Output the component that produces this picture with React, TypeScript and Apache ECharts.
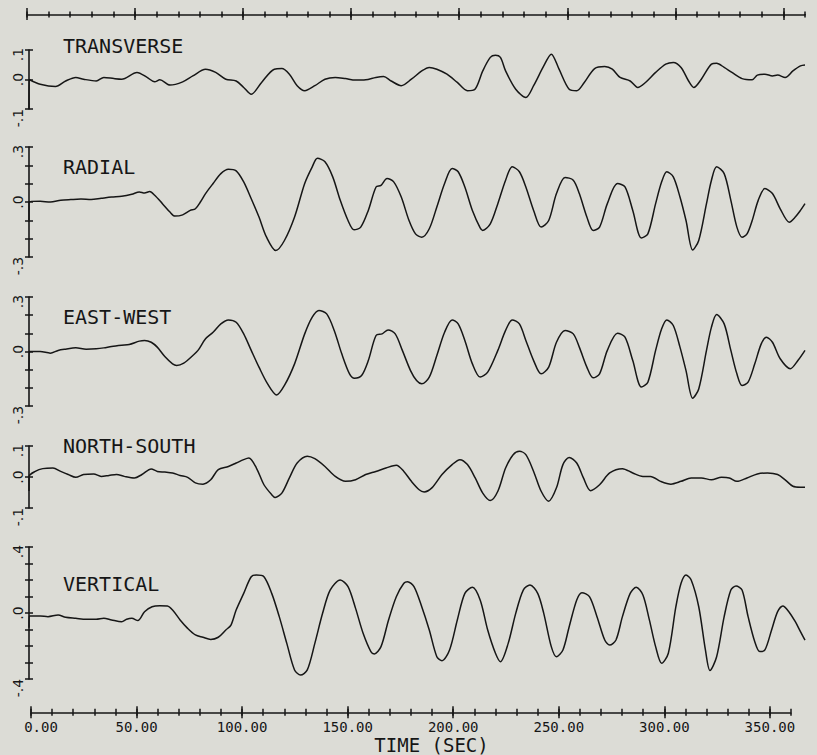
import React, { useEffect, useRef } from 'react';
import * as echarts from 'echarts';

// ---------- data ----------
const panelNames = ['TRANSVERSE', 'RADIAL', 'EAST-WEST', 'NORTH-SOUTH', 'VERTICAL'];
const panelRanges = [0.1, 0.3, 0.3, 0.1, 0.4];
const yTickLabels = [
  ['-.1', '.0', '.1'],
  ['-.3', '.0', '.3'],
  ['-.3', '.0', '.3'],
  ['-.1', '.0', '.1'],
  ['-.4', '.0', '.4'],
];
const xMajorTicks = [0, 50, 100, 150, 200, 250, 300, 350];
const xTickLabels = ['0.00', '50.00', '100.00', '150.00', '200.00', '250.00', '300.00', '350.00'];
const xAxisTitle = 'TIME (SEC)';

const transverse = [
  [0, -0.1], [0.05, 0], [5.2, -0.016], [12.3, -0.024], [17, -0.005], [21.7, 0.007], [25.3, 0.001], [31.2, -0.005],
  [34.7, 0.007], [39.4, 0.003], [43, 0.001], [50.1, 0.024], [54.8, 0.007], [58.3, -0.008], [60.7, -0.001],
  [65.4, -0.019], [71.3, -0.008], [76, 0.012], [81.9, 0.035], [86.6, 0.024], [91.3, 0.001], [96.1, -0.005],
  [99.6, -0.027], [103.1, -0.05], [107.9, -0.01], [113.8, 0.035], [117.3, 0.037], [120.8, 0.018], [124.4, -0.021],
  [127.9, -0.038], [132.6, -0.021], [137.3, 0.001], [142.1, 0.007], [146.8, 0.003], [151.5, -0.002], [156.2, -0.001],
  [160.9, 0.007], [164.5, 0.01], [168, -0.005], [172.7, -0.021], [177.4, 0.001], [182.2, 0.029], [185.7, 0.041],
  [189.2, 0.035], [193.9, 0.018], [198.7, -0.01], [203.4, -0.038], [206.9, -0.033], [210.5, 0.029], [214, 0.075],
  [216.4, 0.082], [218.7, 0.075], [221.1, 0.029], [225.8, -0.033], [230.5, -0.061], [234.1, -0.021], [238.8, 0.046],
  [242.3, 0.086], [245.9, 0.035], [250.6, -0.033], [254.1, -0.038], [257.6, -0.01], [262.4, 0.037], [267.1, 0.044],
  [270.6, 0.035], [274.2, 0.007], [278.9, -0.005], [282.4, -0.027], [286, -0.01], [290.7, 0.024], [295.4, 0.052],
  [298.9, 0.058], [302.5, 0.041], [306, -0.005], [308.4, -0.027], [311.9, 0.001], [316.6, 0.052], [319, 0.055],
  [322.5, 0.041], [326.1, 0.024], [330.8, 0.003], [335.5, -0.001], [337.9, 0.015], [341.4, 0.018], [344.9, 0.012],
  [347.3, 0.015], [350.8, 0.007], [354.4, 0.029], [357.9, 0.046], [360, 0.049],
];

const radial = [
  [0, -0.1], [0.05, 0], [5.2, 0.004], [9.9, 0], [14.7, 0.009], [19.4, 0.013], [24.1, 0.016], [28.8, 0.013],
  [33.5, 0.02], [38.3, 0.027], [43, 0.031], [47.7, 0.042], [51.2, 0.055], [53.6, 0.049], [56, 0.057], [58.3, 0.037],
  [61.9, -0.009], [65.4, -0.055], [67.7, -0.077], [71.3, -0.07], [74.8, -0.046], [77.2, -0.037], [79.5, 0],
  [81.9, 0.046], [85.4, 0.101], [89, 0.155], [92.5, 0.179], [96.1, 0.17], [99.6, 0.11], [103.1, 0.018],
  [106.7, -0.082], [110.2, -0.192], [114.5, -0.265], [118.5, -0.21], [123.2, -0.082], [127.9, 0.101], [131.4, 0.192],
  [133.8, 0.238], [137.3, 0.219], [140.9, 0.137], [144.4, 0.009], [148, -0.101], [150.8, -0.152], [153.9, -0.137],
  [157.4, -0.046], [161, 0.082], [163.3, 0.091], [166.1, 0.128], [169.2, 0.11], [172.7, 0.027], [176.3, -0.101],
  [179.3, -0.174], [182.2, -0.192], [185.7, -0.146], [189.2, -0.027], [192.8, 0.101], [196.3, 0.183], [199.1, 0.165],
  [202.2, 0.082], [205.7, -0.046], [209.3, -0.141], [210.5, -0.155], [214, -0.119], [217.5, -0.009], [221.1, 0.119],
  [224.2, 0.192], [227.5, 0.165], [230.5, 0.082], [234.1, -0.046], [237.6, -0.137], [241.1, -0.101], [244.7, 0.046],
  [248.7, 0.134], [252.5, 0.119], [255.3, 0.046], [258.8, -0.082], [261.7, -0.155], [264.7, -0.137], [268.3, -0.009],
  [273, 0.101], [276.5, 0.082], [280.1, -0.046], [284.1, -0.196], [287.1, -0.174], [290.7, -0.009], [293.5, 0.11],
  [295.9, 0.165], [298.9, 0.137], [302, 0.027], [304.8, -0.101], [307.9, -0.262], [310.7, -0.21], [314.3, -0.009],
  [316.6, 0.119], [319, 0.192], [322.5, 0.155], [325.6, 0.009], [328.4, -0.137], [330.8, -0.192], [333.1, -0.174],
  [335.5, -0.101], [338.3, 0.009], [341.4, 0.073], [344.9, 0.046], [348.5, -0.037], [352.7, -0.11], [355.5, -0.082],
  [357.9, -0.046], [360, -0.009],
];

const eastWest = [
  [0, -0.1], [0.05, 0], [5.2, 0], [9.9, -0.009], [13.5, 0.006], [17, 0.013], [21.7, 0.02], [26.5, 0.013],
  [31.2, 0.015], [34.7, 0.02], [38.3, 0.028], [43, 0.035], [46.5, 0.039], [51.2, 0.057], [53.6, 0.061], [56.7, 0.051],
  [59.5, 0.024], [63, -0.028], [66.6, -0.068], [68.5, -0.077], [71.8, -0.064], [76, -0.022], [78.4, 0.006],
  [81.9, 0.07], [85.4, 0.106], [89, 0.152], [92.5, 0.174], [96.1, 0.161], [99.6, 0.097], [103.1, 0.006],
  [106.7, -0.086], [110.7, -0.178], [114.9, -0.239], [118.5, -0.187], [123.2, -0.068], [127.9, 0.097], [131.4, 0.189],
  [134.5, 0.226], [138.1, 0.207], [141.6, 0.116], [145.1, -0.013], [148.7, -0.123], [151, -0.147], [154.3, -0.132],
  [157.4, -0.05], [161, 0.088], [163.8, 0.097], [166.6, 0.119], [169.9, 0.097], [173.2, 0.006], [177, -0.105],
  [179.8, -0.16], [182.2, -0.178], [185.7, -0.141], [189.2, -0.022], [192.8, 0.106], [196.3, 0.174], [199.1, 0.152],
  [202.2, 0.061], [205.7, -0.068], [209.3, -0.141], [212.8, -0.114], [217.5, 0.006], [221.1, 0.116], [224.2, 0.174],
  [227.5, 0.152], [230.5, 0.061], [234.1, -0.05], [237.6, -0.123], [241.1, -0.086], [244.7, 0.051], [248.7, 0.116],
  [252.5, 0.097], [255.3, 0.024], [258.8, -0.086], [261.7, -0.145], [264.7, -0.123], [268.3, 0.006], [273, 0.101],
  [276.5, 0.079], [280.1, -0.05], [284.1, -0.196], [287.1, -0.169], [290.7, 0.006], [293.5, 0.125], [295.9, 0.174],
  [298.9, 0.143], [302, 0.024], [304.8, -0.105], [307.9, -0.257], [310.7, -0.206], [314.3, 0.006], [316.6, 0.134],
  [319, 0.204], [322.5, 0.152], [325.6, 0.006], [328.4, -0.123], [330.8, -0.187], [333.6, -0.169], [336.7, -0.068],
  [339.7, 0.042], [342.1, 0.079], [344.9, 0.051], [348.5, -0.04], [353.2, -0.095], [356.7, -0.05], [360, 0.006],
];

const northSouth = [
  [0, -0.045], [0.05, 0.002], [2.9, 0.018], [6.4, 0.027], [11.1, 0.029], [14.7, 0.018], [18.2, 0.008], [21.7, -0.001],
  [25.3, 0.008], [30, 0.01], [33.5, 0.002], [37.1, 0.005], [40.6, 0.008], [44.2, 0.002], [48.9, -0.003], [52.4, 0.008],
  [56.7, 0.026], [59.5, 0.018], [63, 0.016], [66.6, 0.013], [70.1, 0.005], [73.6, -0.001], [77.2, -0.019],
  [80.7, -0.023], [84.3, -0.009], [87.8, 0.024], [92.5, 0.034], [96.1, 0.045], [99.6, 0.056], [102, 0.061],
  [105.5, 0.029], [109, -0.025], [112.6, -0.057], [114.2, -0.066], [117.3, -0.052], [120.8, -0.003], [124.4, 0.045],
  [129.1, 0.067], [132.6, 0.059], [137.3, 0.034], [142.1, 0.002], [146.8, -0.014], [151.5, -0.009], [156.2, 0.008],
  [160.9, 0.018], [165.6, 0.029], [170.4, 0.038], [173.9, 0.018], [177.4, -0.014], [181, -0.041], [183.3, -0.048],
  [186.9, -0.035], [191.6, 0.008], [196.3, 0.04], [199.9, 0.056], [203.4, 0.04], [207, -0.003], [210.5, -0.052],
  [214, -0.076], [217.5, -0.046], [221.1, 0.029], [224.6, 0.072], [227.5, 0.083], [230.5, 0.072], [234.1, 0.018],
  [237.6, -0.046], [241.1, -0.078], [244.7, -0.035], [247.7, 0.04], [250.6, 0.063], [254.1, 0.045], [257.2, -0.003],
  [260.5, -0.044], [264.7, -0.025], [269.4, 0.013], [275.3, 0.027], [280.1, 0.013], [284.8, 0.002], [288.3, 0.002],
  [293, -0.014], [297.8, -0.023], [302.5, -0.014], [307.2, -0.003], [311.9, -0.003], [316.6, -0.009], [321.3, -0.001],
  [324.9, -0.003], [328.4, -0.014], [333.1, -0.003], [337.9, 0.01], [342.6, 0.013], [347.3, 0.008], [350.8, -0.009],
  [354.4, -0.03], [357.9, -0.033], [360, -0.033],
];

const vertical = [
  [0, -0.09], [0.05, -0.018], [5.2, -0.018], [8.8, -0.022], [13.5, -0.012], [17, -0.026], [21.7, -0.032],
  [26.5, -0.038], [31.2, -0.038], [34.7, -0.032], [38.3, -0.042], [43, -0.053], [45.3, -0.038], [47.7, -0.032],
  [50.5, -0.046], [53.6, 0.008], [57.1, 0.038], [60.7, 0.044], [64.2, 0.042], [66.6, 0.018], [70.1, -0.042],
  [73.6, -0.093], [77.2, -0.133], [80.7, -0.147], [84.3, -0.16], [87.8, -0.147], [91.3, -0.103], [93.7, -0.073],
  [96.1, 0.018], [99.6, 0.119], [103.1, 0.22], [105.5, 0.23], [109, 0.22], [112.6, 0.119], [116.1, -0.022],
  [119.6, -0.184], [123.2, -0.345], [126, -0.376], [129.1, -0.345], [132.6, -0.184], [136.2, -0.002], [139.7, 0.139],
  [144.4, 0.2], [148, 0.16], [151.5, 0.028], [155, -0.123], [158.6, -0.234], [160.2, -0.248], [163.3, -0.204],
  [166.8, -0.042], [170.4, 0.099], [173.9, 0.18], [175.6, 0.19], [178.6, 0.16], [182.2, 0.038], [185.7, -0.103],
  [189.2, -0.265], [191.6, -0.289], [195.1, -0.224], [198.7, -0.042], [202.2, 0.119], [205.7, 0.156], [209.3, 0.079],
  [212.8, -0.103], [216.4, -0.244], [218.7, -0.295], [222.3, -0.184], [225.8, -0.002], [229.3, 0.139], [232.4, 0.17],
  [236, 0.119], [238.8, -0.002], [242.3, -0.204], [244.7, -0.265], [247.7, -0.224], [250.6, -0.083], [254.1, 0.079],
  [256.5, 0.123], [260, 0.099], [263.5, -0.022], [267.1, -0.164], [269.4, -0.194], [272.3, -0.164], [275.3, -0.022],
  [278.9, 0.119], [281.7, 0.156], [284.8, 0.109], [287.8, -0.042], [290.7, -0.204], [293.5, -0.305], [296.6, -0.244],
  [300.1, 0.038], [302.5, 0.18], [304.8, 0.23], [307.2, 0.2], [310.7, 0.038], [313.8, -0.224], [315.9, -0.349],
  [319, -0.265], [322.5, -0.022], [325.6, 0.139], [328, 0.164], [330.8, 0.139], [333.6, -0.022], [336.7, -0.174],
  [339, -0.234], [341.4, -0.224], [344.5, -0.103], [347.3, 0.008], [349.7, 0.042], [352.5, 0.008], [355.5, -0.053],
  [357.9, -0.113], [360, -0.164],
];

const traces = [transverse, radial, eastWest, northSouth, vertical];

// ---------- layout / style ----------
const INK = '#161616';
const BG = '#dcdcd6';
const MONO = 'DejaVu Sans Mono';
const SANS = 'DejaVu Sans';
const panelTops = [50, 147, 297, 446, 547];
const panelHeights = [59, 110, 109, 62, 132];
const panelLabelY = [46, 167, 317, 446, 584];

function buildOption() {
  const grid: any[] = [
    { left: 27, top: 14, width: 778, height: 1 },
    { left: 31, top: 712, width: 760, height: 1 },
  ];
  panelTops.forEach((t, i) => grid.push({ left: 29, top: t, width: 776, height: panelHeights[i] }));

  const xAxis: any[] = [];
  const yAxis: any[] = [];
  const base = { type: 'value', min: 0, max: 360, splitLine: { show: false } };

  // top and bottom time axes (ticks crossing the axis line)
  [0, 1].forEach((g) => {
    const position = g === 0 ? 'top' : 'bottom';
    xAxis.push({
      ...base, gridIndex: g, position, interval: 10,
      axisLine: { show: true, lineStyle: { color: INK, width: 1.5 } },
      axisTick: { show: true, length: 3.5, lineStyle: { color: INK, width: 1.5 } },
      axisLabel: { show: false },
    });
    xAxis.push({
      ...base, gridIndex: g, position, interval: 10,
      axisLine: { show: false },
      axisTick: { show: true, inside: true, length: 3.5, lineStyle: { color: INK, width: 1.5 } },
      axisLabel: { show: false },
    });
    xAxis.push({
      ...base, gridIndex: g, position, interval: 50,
      axisLine: { show: false },
      axisTick: { show: true, length: 6, customValues: xMajorTicks, lineStyle: { color: INK, width: 1.5 } },
      axisLabel: g === 1
        ? {
            show: true, customValues: xMajorTicks, margin: 8, color: INK, fontFamily: MONO, fontSize: 14,
            formatter: (v: number) => {
              const k = xMajorTicks.indexOf(Math.round(v));
              if (k < 0) return '';
              return k === 0 ? `{f|${xTickLabels[k]}}` : xTickLabels[k];
            },
            rich: { f: { fontFamily: MONO, fontSize: 14, color: INK, padding: [0, 0, 0, 20] } },
          }
        : { show: false },
      name: g === 1 ? xAxisTitle : '',
      nameLocation: 'middle',
      nameGap: 20,
      nameTextStyle: { color: INK, fontFamily: MONO, fontSize: 19, lineHeight: 19, padding: [0, 0, 0, 41] },
    });
    xAxis.push({
      ...base, gridIndex: g, position, interval: 50,
      axisLine: { show: false },
      axisTick: { show: true, inside: true, length: 6, customValues: xMajorTicks, lineStyle: { color: INK, width: 1.5 } },
      axisLabel: { show: false },
    });
    yAxis.push({ type: 'value', gridIndex: g, show: false, min: 0, max: 1 });
  });

  const series: any[] = [];
  panelNames.forEach((name, i) => {
    const g = i + 2;
    const r = panelRanges[i];
    const xi = xAxis.length;
    xAxis.push({ ...base, gridIndex: g, show: false });
    const yi = yAxis.length;
    const yBase = { type: 'value', gridIndex: g, min: -r, max: r, interval: 0.1, position: 'left', splitLine: { show: false } };
    yAxis.push({
      ...yBase,
      axisLine: { show: true, lineStyle: { color: INK, width: 1.6 } },
      axisTick: { show: true, length: 4, lineStyle: { color: INK, width: 1.5 } },
      axisLabel: {
        show: true, rotate: 90, margin: 4, align: 'center', verticalAlign: 'bottom',
        color: INK, fontFamily: SANS, fontSize: 14,
        formatter: (v: number) => {
          if (Math.abs(v) < 1e-6) return `{z|${yTickLabels[i][1]}}`;
          if (Math.abs(v - r) < 1e-6) return `{p|${yTickLabels[i][2]}}`;
          if (Math.abs(v + r) < 1e-6) return `{n|${yTickLabels[i][0]}}`;
          return '';
        },
        rich: {
          z: { fontFamily: SANS, fontSize: 14, color: INK },
          p: { fontFamily: SANS, fontSize: 14, color: INK, padding: [0, 9, 0, 0] },
          n: { fontFamily: SANS, fontSize: 14, color: INK, padding: [0, 18, 0, 0] },
        },
      },
    });
    yAxis.push({
      ...yBase,
      axisLine: { show: false },
      axisTick: { show: true, inside: true, length: 4, lineStyle: { color: INK, width: 1.5 } },
      axisLabel: { show: false },
    });
    series.push({
      type: 'line',
      name,
      xAxisIndex: xi,
      yAxisIndex: yi,
      data: traces[i],
      showSymbol: false,
      smooth: 0.3,
      clip: false,
      lineStyle: { color: INK, width: 1.5 },
    });
  });

  const graphic = panelNames.map((name, i) => ({
    type: 'text',
    x: 63,
    y: panelLabelY[i],
    style: { text: name, fill: INK, fontFamily: MONO, fontSize: 20, verticalAlign: 'middle', align: 'left' },
  }));

  return { animation: false, backgroundColor: BG, grid, xAxis, yAxis, series, graphic };
}

export default function App() {
  const ref = useRef<HTMLDivElement>(null);
  useEffect(() => {
    if (!ref.current) return;
    const chart = echarts.init(ref.current, null, { renderer: 'svg' });
    chart.setOption(buildOption() as any);
    return () => chart.dispose();
  }, []);
  return (
    <div
      ref={ref}
      style={{ position: 'fixed', left: 0, top: 0, width: 817, height: 755, background: BG }}
    />
  );
}
